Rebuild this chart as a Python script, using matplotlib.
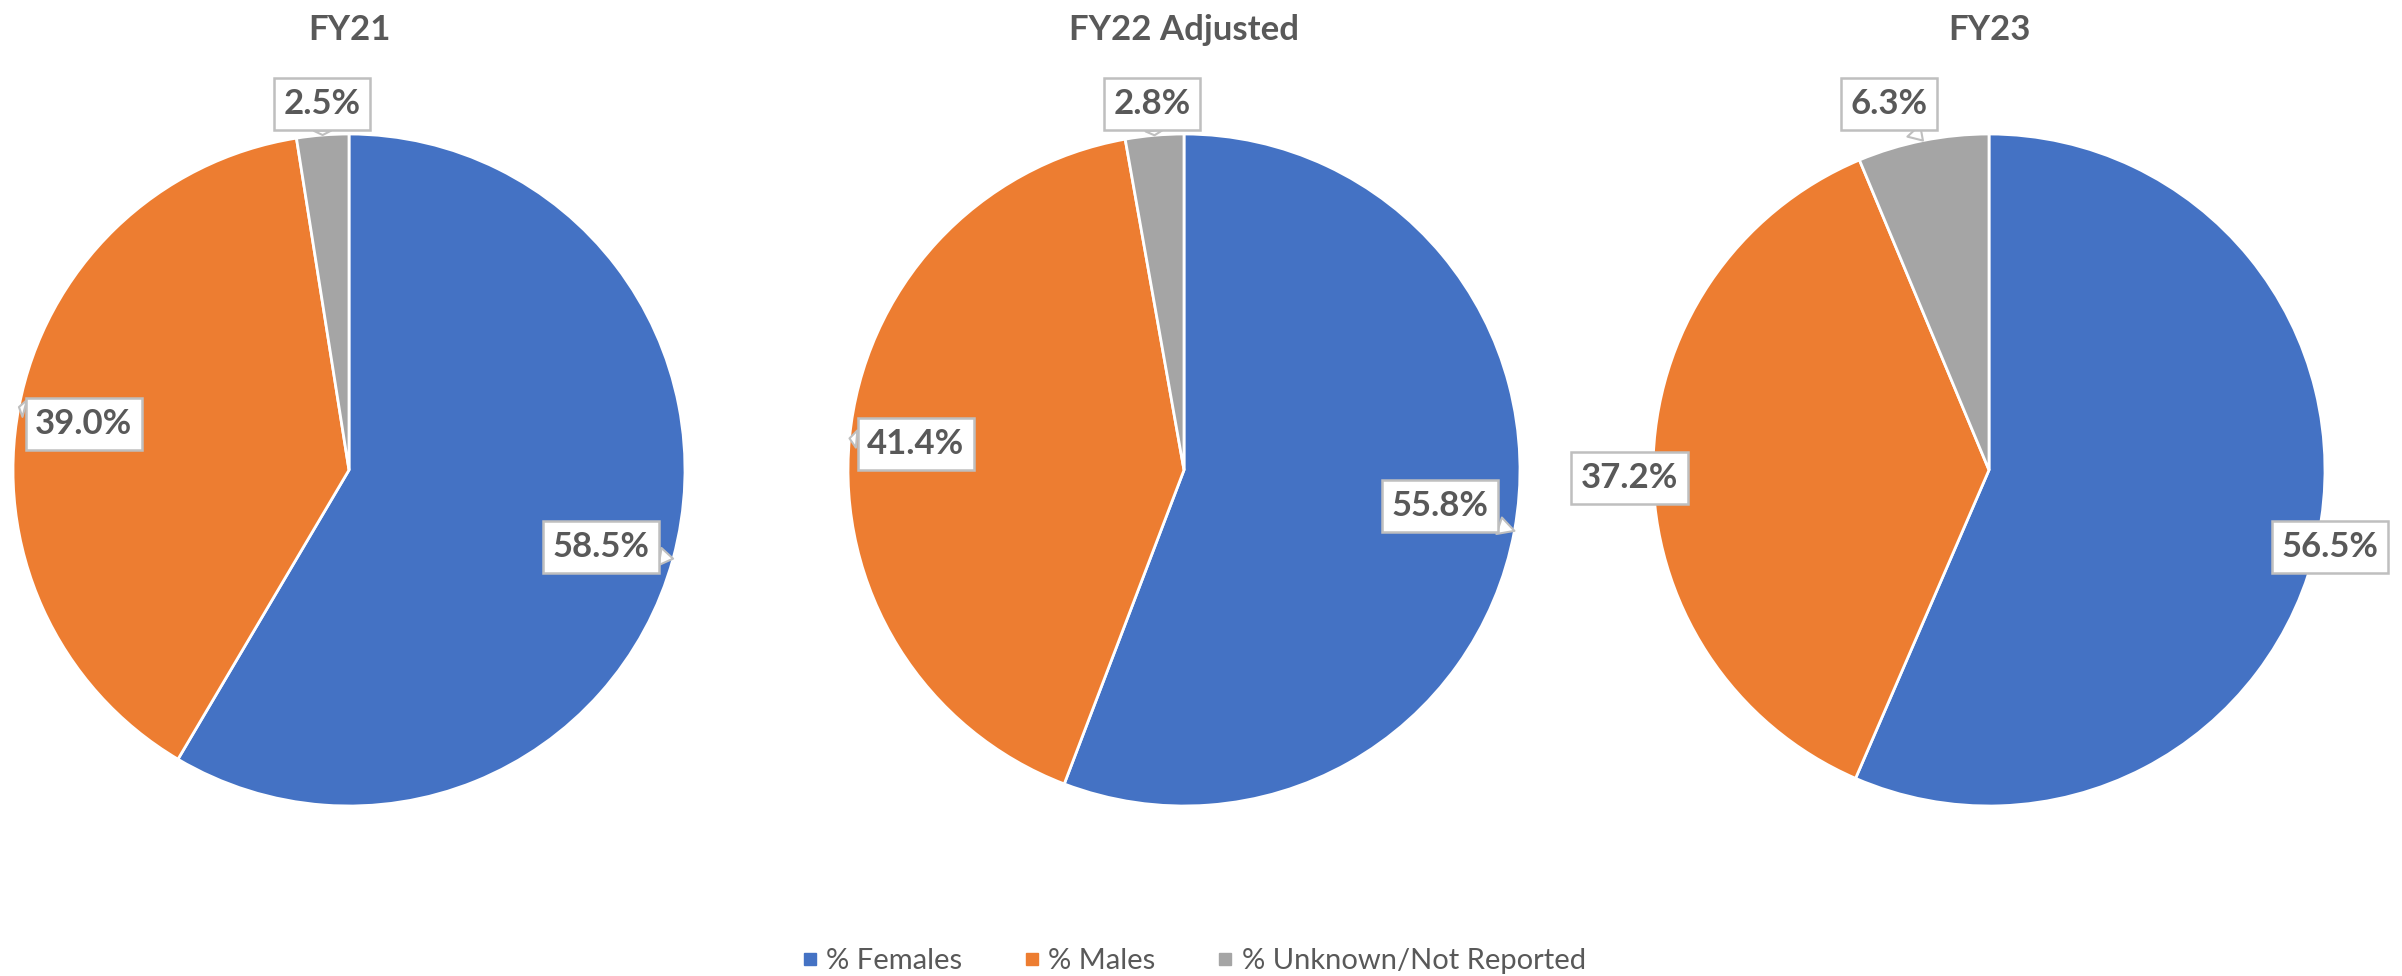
import numpy as np
import matplotlib
matplotlib.use("Agg")
import matplotlib.pyplot as plt
from matplotlib.lines import Line2D

# ---- data ----
titles = ["FY21", "FY22 Adjusted", "FY23"]
categories = ["% Females", "% Males", "% Unknown/Not Reported"]
females = [58.5, 55.8, 56.5]
males = [39.0, 41.4, 37.2]
unknown = [2.5, 2.8, 6.3]

# ---- style / layout ----
colors = ["#4472C4", "#ED7D31", "#A5A5A5"]
text_color = "#595959"
box_edge = "#BFBFBF"
W, H = 2402, 976
centers_px = [(349, 470), (1184, 470), (1989, 470)]
radius_px = 336
pad = 1.35
# label centres in units of pie radius (dx, dy) for [Females, Males, Unknown]
label_pos = [
    [(0.750, -0.229), (-0.789, 0.137), (-0.080, 1.089)],
    [(0.762, -0.107), (-0.798, 0.077), (-0.095, 1.089)],
    [(1.015, -0.229), (-1.071, -0.024), (-0.298, 1.089)],
]

plt.rcParams['font.family'] = ['Lato', 'DejaVu Sans']
fig = plt.figure(figsize=(W / 100, H / 100), dpi=100)

for i, (cx, cy) in enumerate(centers_px):
    size = 2 * pad * radius_px
    ax = fig.add_axes([(cx - size / 2) / W, (H - cy - size / 2) / H, size / W, size / H])
    vals = [females[i], males[i], unknown[i]]
    wedges, _ = ax.pie(vals, colors=colors, startangle=90, counterclock=False,
                       radius=1.0, wedgeprops=dict(edgecolor="white", linewidth=2.0))
    ax.set_xlim(-pad, pad)
    ax.set_ylim(-pad, pad)
    ax.set_aspect("equal")
    ax.axis("off")
    for j, w in enumerate(wedges):
        mid = np.deg2rad((w.theta1 + w.theta2) / 2)
        tip = (np.cos(mid), np.sin(mid))
        lx, ly = label_pos[i][j]
        ax.annotate(f"{vals[j]:.1f}%", xy=tip, xytext=(lx, ly),
                    ha="center", va="center", fontsize=25, fontweight="bold",
                    color=text_color,
                    bbox=dict(boxstyle="square,pad=0.28", fc="white", ec=box_edge, lw=1.8),
                    arrowprops=dict(arrowstyle="wedge,tail_width=0.5,shrink_factor=0.5",
                                    fc="white", ec=box_edge, lw=1.5,
                                    shrinkA=0, shrinkB=0))
    fig.text(cx / W, 1 - 30 / H, titles[i], ha="center", va="center",
             fontsize=25, fontweight="bold", color=text_color)

handles = [Line2D([0], [0], marker="s", linestyle="none", markersize=9,
                  markerfacecolor=c, markeredgecolor=c) for c in colors]
fig.legend(handles, categories, loc="center", bbox_to_anchor=(1192 / W, 15 / H),
           ncol=3, frameon=False, fontsize=21, labelcolor=text_color,
           handletextpad=0.15, columnspacing=2.0, handlelength=0.8)

fig.savefig("out.png", dpi=100, facecolor="white")
